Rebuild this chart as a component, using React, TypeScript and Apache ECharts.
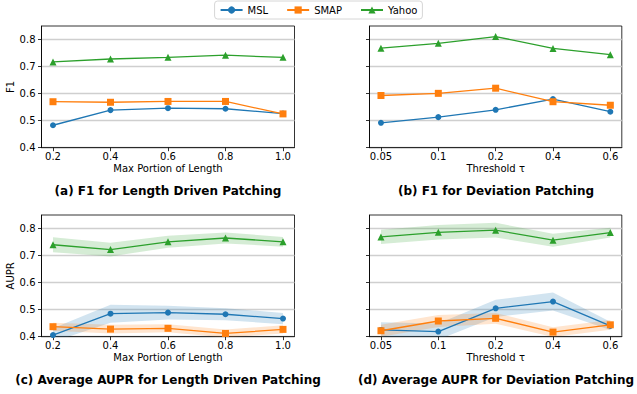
import React, { useEffect, useRef } from 'react';
import * as echarts from 'echarts';

// ---- data ----
const lengthTicks = [0.2, 0.4, 0.6, 0.8, 1.0];
const thresholdLabels = ['0.05', '0.1', '0.2', '0.4', '0.6'];
const thresholdIdx = [0, 1, 2, 3, 4];
const yTicks = [0.4, 0.5, 0.6, 0.7, 0.8];

const f1LenMSL = [0.483, 0.539, 0.546, 0.544, 0.526];
const f1LenSMAP = [0.570, 0.568, 0.571, 0.571, 0.525];
const f1LenYahoo = [0.717, 0.728, 0.734, 0.742, 0.734];

const f1DevMSL = [0.492, 0.513, 0.540, 0.580, 0.533];
const f1DevSMAP = [0.593, 0.601, 0.620, 0.570, 0.557];
const f1DevYahoo = [0.768, 0.786, 0.811, 0.767, 0.744];

const auprLenMSL = [0.406, 0.485, 0.489, 0.483, 0.467];
const auprLenMSLStd = [0.025, 0.033, 0.025, 0.022, 0.021];
const auprLenSMAP = [0.437, 0.428, 0.431, 0.412, 0.427];
const auprLenSMAPStd = [0.015, 0.016, 0.015, 0.015, 0.015];
const auprLenYahoo = [0.740, 0.722, 0.751, 0.765, 0.751];
const auprLenYahooStd = [0.028, 0.025, 0.022, 0.02, 0.018];

const auprDevMSL = [0.425, 0.419, 0.505, 0.530, 0.440];
const auprDevMSLStd = [0.028, 0.03, 0.032, 0.033, 0.015];
const auprDevSMAP = [0.422, 0.458, 0.468, 0.417, 0.444];
const auprDevSMAPStd = [0.022, 0.022, 0.02, 0.018, 0.018];
const auprDevYahoo = [0.769, 0.786, 0.794, 0.757, 0.785];
const auprDevYahooStd = [0.026, 0.027, 0.027, 0.024, 0.018];

const seriesNames = ['MSL', 'SMAP', 'Yahoo'];
const titles = [
  '(a) F1 for Length Driven Patching',
  '(b) F1 for Deviation Patching',
  '(c) Average AUPR for Length Driven Patching',
  '(d) Average AUPR for Deviation Patching',
];

const FONT = 'DejaVu Sans';
const COLORS: Record<string, string> = { MSL: '#1f77b4', SMAP: '#ff7f0e', Yahoo: '#2ca02c' };
const SYMBOLS: Record<string, string> = { MSL: 'circle', SMAP: 'rect', Yahoo: 'triangle' };
const SYMSIZE: Record<string, number> = { MSL: 6, SMAP: 7, Yahoo: 7 };

const gridsPos = [
  { left: 41.5, top: 26, width: 253, height: 121.7 },
  { left: 369.5, top: 26, width: 252.3, height: 121.7 },
  { left: 41.5, top: 215, width: 253, height: 121.7 },
  { left: 369.5, top: 215, width: 252.3, height: 121.7 },
];

export default function App() {
  const ref = useRef<HTMLDivElement>(null);
  useEffect(() => {
    if (!ref.current) return;
    const chart = echarts.init(ref.current, undefined, { renderer: 'svg' });

    const panels = [
      { xs: lengthTicks, vals: [f1LenMSL, f1LenSMAP, f1LenYahoo], std: null as null | number[][], kind: 'len', yName: 'F1' },
      { xs: thresholdIdx, vals: [f1DevMSL, f1DevSMAP, f1DevYahoo], std: null, kind: 'dev', yName: '' },
      { xs: lengthTicks, vals: [auprLenMSL, auprLenSMAP, auprLenYahoo], std: [auprLenMSLStd, auprLenSMAPStd, auprLenYahooStd], kind: 'len', yName: 'AUPR' },
      { xs: thresholdIdx, vals: [auprDevMSL, auprDevSMAP, auprDevYahoo], std: [auprDevMSLStd, auprDevSMAPStd, auprDevYahooStd], kind: 'dev', yName: '' },
    ];

    const axisText = { fontFamily: FONT, fontSize: 10, color: '#000' };

    const grid = gridsPos.map((g) => ({
      ...g,
      show: true,
      borderColor: '#000',
      borderWidth: 0.8,
      backgroundColor: 'transparent',
    }));

    const xAxis = panels.map((p, i) => {
      const isLen = p.kind === 'len';
      return {
        type: 'value',
        gridIndex: i,
        min: isLen ? 0.16 : -0.2,
        max: isLen ? 1.04 : 4.2,
        name: isLen ? 'Max Portion of Length' : 'Threshold τ',
        nameLocation: 'middle',
        nameGap: 16,
        nameTextStyle: { fontFamily: FONT, fontSize: 10, color: '#000' },
        axisLine: { show: true, onZero: false, lineStyle: { color: '#000', width: 0.8 } },
        axisTick: { show: true, length: 3.5, customValues: p.xs, lineStyle: { color: '#000', width: 0.8 } },
        axisLabel: {
          ...axisText,
          margin: 4,
          customValues: p.xs,
          formatter: (v: number) => (isLen ? v.toFixed(1) : thresholdLabels[Math.round(v)]),
        },
        splitLine: { show: false },
      };
    });

    const yAxis = panels.map((p, i) => ({
      type: 'value',
      gridIndex: i,
      min: 0.4,
      max: 0.85,
      interval: 0.1,
      name: p.yName,
      nameLocation: 'middle',
      nameGap: 25,
      nameRotate: 90,
      nameTextStyle: { fontFamily: FONT, fontSize: 10, color: '#000' },
      axisLine: { show: true, onZero: false, lineStyle: { color: '#000', width: 0.8 } },
      axisTick: { show: true, length: 3.5, customValues: yTicks, lineStyle: { color: '#000', width: 0.8 } },
      axisLabel: {
        ...axisText,
        show: i % 2 === 0,
        margin: 6,
        customValues: yTicks,
        formatter: (v: number) => (v > 0.81 ? '' : v.toFixed(1)),
      },
      splitLine: { show: true, lineStyle: { color: '#cfcfcf', width: 1.3 } },
    }));

    const series: any[] = [];
    panels.forEach((p, i) => {
      seriesNames.forEach((name, s) => {
        const vals = p.vals[s];
        if (p.std) {
          const sd = p.std[s];
          const pts = p.xs.map((x, k) => [x, vals[k] - sd[k], vals[k] + sd[k]]);
          const color = COLORS[name];
          series.push({
            type: 'custom',
            name: `${name}-band`,
            xAxisIndex: i,
            yAxisIndex: i,
            data: pts,
            encode: { x: 0, y: [1, 2] },
            silent: true,
            z: 1,
            renderItem: (params: any, api: any) => {
              if (params.dataIndex !== 0) return null;
              const upper = pts.map((d) => api.coord([d[0], d[2]]));
              const lower = pts.map((d) => api.coord([d[0], d[1]])).reverse();
              const cs = params.coordSys;
              return {
                type: 'polygon',
                shape: { points: [...upper, ...lower] },
                style: { fill: color, opacity: 0.2 },
                clipPath: { type: 'rect', shape: { x: cs.x, y: cs.y, width: cs.width, height: cs.height } },
              };
            },
          });
        }
        series.push({
          type: 'line',
          name,
          xAxisIndex: i,
          yAxisIndex: i,
          data: p.xs.map((x, k) => [x, vals[k]]),
          symbol: SYMBOLS[name],
          symbolSize: SYMSIZE[name],
          lineStyle: { color: COLORS[name], width: 1.3 },
          itemStyle: { color: COLORS[name] },
          z: 3,
        });
      });
    });

    const titleCenters = [
      { left: 168, top: 185 },
      { left: 496, top: 185 },
      { left: 168, top: 374 },
      { left: 496, top: 374 },
    ];

    chart.setOption({
      animation: false,
      textStyle: { fontFamily: FONT },
      title: titles.map((t, i) => ({
        text: t,
        left: titleCenters[i].left,
        top: titleCenters[i].top,
        textAlign: 'center',
        padding: 0,
        textStyle: { fontFamily: FONT, fontSize: 12, fontWeight: 'bold', color: '#000' },
      })),
      legend: {
        data: seriesNames,
        top: 1,
        left: 'center',
        itemWidth: 22,
        itemHeight: 9,
        itemGap: 18,
        padding: [4, 5],
        borderColor: '#cccccc',
        borderWidth: 0.8,
        borderRadius: 3,
        textStyle: { fontFamily: FONT, fontSize: 10, color: '#000' },
      },
      grid,
      xAxis,
      yAxis,
      series,
    });

    return () => chart.dispose();
  }, []);

  return (
    <div
      ref={ref}
      style={{ position: 'fixed', left: 0, top: 0, width: 637, height: 394, background: '#fff' }}
    />
  );
}
